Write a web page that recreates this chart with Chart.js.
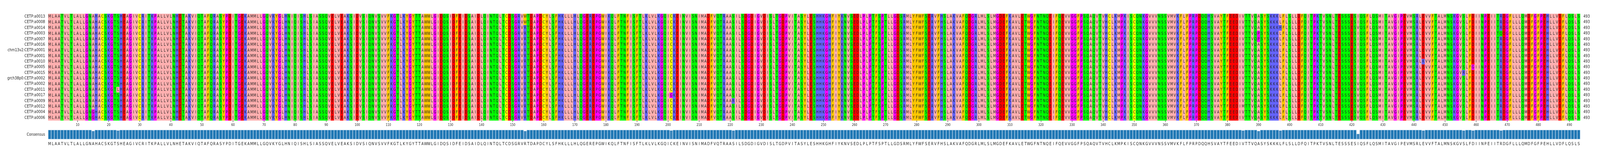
<!DOCTYPE html>
<html>
<head>
<meta charset="utf-8">
<script src="https://cdn.jsdelivr.net/npm/chart.js@4"></script>
<style>
  html, body { margin: 0; padding: 0; background: #fff; overflow: hidden; }
  canvas { display: block; }
</style>
</head>
<body>
<canvas id="msa"></canvas>
<script>
const rowNames = [
  "CETP:a0013", "CETP:a0008", "CETP:a0014", "CETP:a0003", "CETP:a0007",
  "CETP:a0016", "chm13v2:CETP:a0001", "CETP:a0001", "CETP:a0010", "CETP:a0005",
  "CETP:a0015", "grch38p0:CETP:a0002", "CETP:a0002", "CETP:a0011", "CETP:a0017",
  "CETP:a0009", "CETP:a0012", "CETP:a0004", "CETP:a0006"
];

const consensusSeq =
  "MLAATVLTLALLGNAHACSKGTSHEAGIVCRITKPALLVLNHETAKVIQTAFQRASYPDITGEKAMMLLGQVKYGLHNIQISHLSIASSQVELVEAKSIDVSIQNVSVVFKGTLKYGYTTAWWLGIDQSIDFEIDSAIDLQINTQLTCDSGRVRTDAPDCYLSFHKLLLHLQGEREPGWIKQLFTNFISFTLKLVLKGQICKEINVISNIMADFVQTRAASILSDGDIGVDISLTGDPVITASYLESHHKGHFIYKNVSEDLPLPTFSPTLLGDSRMLYFWFSERVFHSLAKVAFQDGRLMLSLMGDEFKAVLETWGFNTNQEIFQEVVGGFPSQAQVTVHCLKMPKISCQNKGVVVNSSVMVKFLFPRPDQQHSVAYTFEEDIVTTVQASYSKKKLFLSLLDFQITPKTVSNLTESSSESIQSFLQSMITAVGIPEVMSRLEVVFTALMNSKGVSLFDIINPEIITRDGFLLLQMDFGFPEHLLVDFLQSLS";

// substitutions: [rows, motif, offset in motif, new residue]
const variants = [
  [[17, 18], "GNAHA", 2, "G"],
  [[13], "KGTSH", 3, "L"],
  [[0, 1], "GRVRTD", 3, "W"],
  [[14], "GQICKE", 3, "G"],
  [[15], "TRAASIL", 4, "R"],
  [[2], "SKKKLF", 4, "H"],
  [[3, 4], "TVQASY", 3, "P"],
  [[3], "IITRDG", 3, "Q"],
  [[8], "SRLEVV", 3, "K"],
  [[9], "SLFDII", 3, "G"],
  [[10], "KGVSLF", 3, "R"],
  [[2, 12, 13, 14, 15, 16, 17, 18], "SESIQS", 3, "V"],
  [[16], "EEDIVTT", 4, "M"]
];

const nCols = consensusSeq.length;
const positions = Array.from({ length: nCols }, (_, i) => String(i + 1));

// zappo colours
const zappo = {
  I: "#ffafaf", L: "#ffafaf", V: "#ffafaf", A: "#ffafaf", M: "#ffafaf",
  F: "#ffc800", W: "#ffc800", Y: "#ffc800",
  K: "#6464ff", R: "#6464ff", H: "#6464ff",
  D: "#ff0000", E: "#ff0000",
  S: "#00ff00", T: "#00ff00", N: "#00ff00", Q: "#00ff00",
  P: "#ff00ff", G: "#ff00ff",
  C: "#ffff00"
};

const rows = rowNames.map(() => consensusSeq.split(""));
variants.forEach(([rs, motif, off, aa]) => {
  const at = consensusSeq.indexOf(motif);
  if (at < 0) return;
  rs.forEach((r) => { rows[r][at + off] = aa; });
});

const conservation = positions.map((_, c) =>
  rows.filter((r) => r[c] === consensusSeq[c]).length / rows.length);

// the window may not be exactly 5190x409, so scale everything to it
const W = window.innerWidth, H = window.innerHeight;
const sx = W / 5190, sy = H / 409;
const canvas = document.getElementById("msa");
canvas.width = W; canvas.height = H;
canvas.style.width = W + "px"; canvas.style.height = H + "px";

const nRows = rowNames.length;
const yMax = 22.34;
const barSpan = 1.67;

const datasets = rows.map((seq, r) => ({
  data: seq.map(() => [r, r + 1]),
  backgroundColor: seq.map((aa) => zappo[aa] || "#ffffff"),
  borderWidth: 0,
  barPercentage: 1,
  categoryPercentage: 1,
  grouped: false
}));
datasets.push({
  data: conservation.map((v) => [yMax - v * barSpan, yMax]),
  backgroundColor: conservation.map((v) => v === 1 ? "#1f77b4" : "#3a86bd"),
  borderColor: "#c6dbef",
  borderWidth: 1,
  borderSkipped: false,
  barPercentage: 1,
  categoryPercentage: 1,
  grouped: false
});

const font = (px) => (px * sy).toFixed(2) + "px 'DejaVu Sans'";

function text(ctx, t, x, y) {
  ctx.save();
  ctx.translate(x, y);
  ctx.scale(sx / sy, 1);
  ctx.fillText(t, 0, 0);
  ctx.restore();
}

const textPlugin = {
  id: "msaText",
  afterDatasetsDraw(chart) {
    const ctx = chart.ctx;
    const x = chart.scales.x, y = chart.scales.y;
    const left = chart.chartArea.left, right = chart.chartArea.right;
    ctx.save();
    ctx.fillStyle = "#222";
    ctx.textBaseline = "middle";
    // residues
    ctx.font = font(10.5);
    ctx.textAlign = "center";
    rows.forEach((seq, r) => {
      const cy = y.getPixelForValue(r + 0.5);
      seq.forEach((aa, c) => text(ctx, aa, x.getPixelForValue(c), cy + 0.5));
    });
    // row names and lengths
    ctx.font = font(11);
    rowNames.forEach((name, r) => {
      const cy = y.getPixelForValue(r + 0.5);
      ctx.textAlign = "right";
      text(ctx, name, left - 10 * sx, cy);
      ctx.textAlign = "left";
      text(ctx, String(nCols), right + 10 * sx, cy);
    });
    // position ticks
    const tickTop = y.getPixelForValue(nRows);
    ctx.strokeStyle = "#333";
    ctx.lineWidth = 1;
    ctx.font = font(9);
    ctx.textAlign = "center";
    positions.forEach((p, c) => {
      if ((c + 1) % 10) return;
      const px = x.getPixelForValue(c);
      ctx.beginPath();
      ctx.moveTo(px, tickTop);
      ctx.lineTo(px, tickTop + 4 * sy);
      ctx.stroke();
      text(ctx, p, px, tickTop + 12 * sy);
    });
    // consensus
    ctx.font = font(11);
    ctx.textAlign = "right";
    text(ctx, "Consensus", left - 10 * sx, y.getPixelForValue(yMax - barSpan / 2));
    ctx.textAlign = "center";
    const ly = y.getPixelForValue(yMax) + 12 * sy;
    consensusSeq.split("").forEach((aa, c) => text(ctx, aa, x.getPixelForValue(c), ly));
    ctx.restore();
  }
};

new Chart(canvas, {
  type: "bar",
  data: { labels: positions, datasets },
  options: {
    responsive: false,
    animation: false,
    layout: { padding: { left: 156 * sx, right: 64 * sx, top: 35 * sy, bottom: 53 * sy } },
    plugins: { legend: { display: false }, tooltip: { enabled: false } },
    scales: {
      x: { display: false },
      y: { display: false, min: 0, max: yMax, reverse: true }
    }
  },
  plugins: [textPlugin]
});
</script>
</body>
</html>
